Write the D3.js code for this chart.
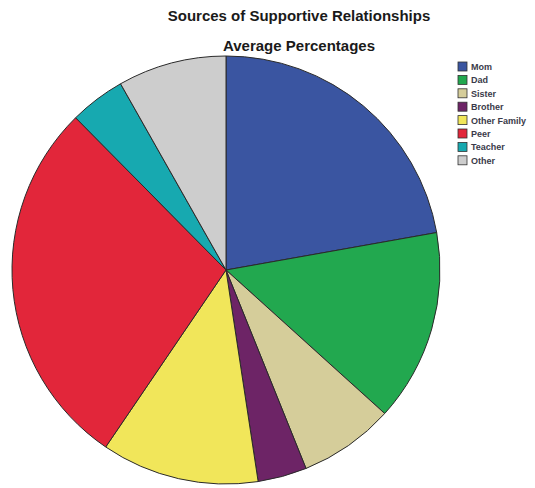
<!DOCTYPE html>
<html lang="en">
<head>
<meta charset="utf-8">
<title>Sources of Supportive Relationships</title>
<script src="https://d3js.org/d3.v7.min.js"></script>
<style>
  body { margin: 0; background: #fff; }
  text { font-family: "Liberation Sans", Arial, sans-serif; }
</style>
</head>
<body>
<script>
// data (percent)
var categories = ["Mom", "Dad", "Sister", "Brother", "Other Family", "Peer", "Teacher", "Other"];
var values = [22.2, 14.5, 7.2, 3.7, 11.9, 28.1, 4.2, 8.2];
var colors = ["#3a55a1", "#22a84f", "#d5cd9a", "#6d2466", "#f1e65a", "#e2263a", "#17a9b0", "#cdcdcd"];

var width = 535, height = 488;
var cx = 226, cy = 270, radius = 214;

var svg = d3.select("body").append("svg")
  .attr("width", width)
  .attr("height", height);

// titles
svg.append("text")
  .attr("x", 299).attr("y", 21)
  .attr("text-anchor", "middle")
  .style("font-size", "15px").style("font-weight", "bold")
  .attr("fill", "#1a1a1a")
  .text("Sources of Supportive Relationships");

svg.append("text")
  .attr("x", 299).attr("y", 51)
  .attr("text-anchor", "middle")
  .style("font-size", "15px").style("font-weight", "bold")
  .attr("fill", "#1a1a1a")
  .text("Average Percentages");

var pie = d3.pie().sort(null).value(function(d) { return d; });
var arc = d3.arc().innerRadius(0).outerRadius(radius);

var g = svg.append("g").attr("transform", "translate(" + cx + "," + cy + ")");

g.selectAll("path")
  .data(pie(values))
  .enter()
  .append("path")
  .attr("d", arc)
  .attr("fill", function(d, i) { return colors[i]; })
  .attr("stroke", "#2a2a2a")
  .attr("stroke-width", 1);

// legend
var legend = svg.append("g").attr("transform", "translate(458,62)");
var item = legend.selectAll("g")
  .data(categories)
  .enter()
  .append("g")
  .attr("transform", function(d, i) { return "translate(0," + (i * 13.4) + ")"; });

item.append("rect")
  .attr("width", 9).attr("height", 9)
  .attr("fill", function(d, i) { return colors[i]; })
  .attr("stroke", "#333").attr("stroke-width", 0.8);

item.append("text")
  .attr("x", 13).attr("y", 8)
  .style("font-size", "9px").style("font-weight", "bold")
  .attr("fill", "#3a3a4a")
  .text(function(d) { return d; });
</script>
</body>
</html>
